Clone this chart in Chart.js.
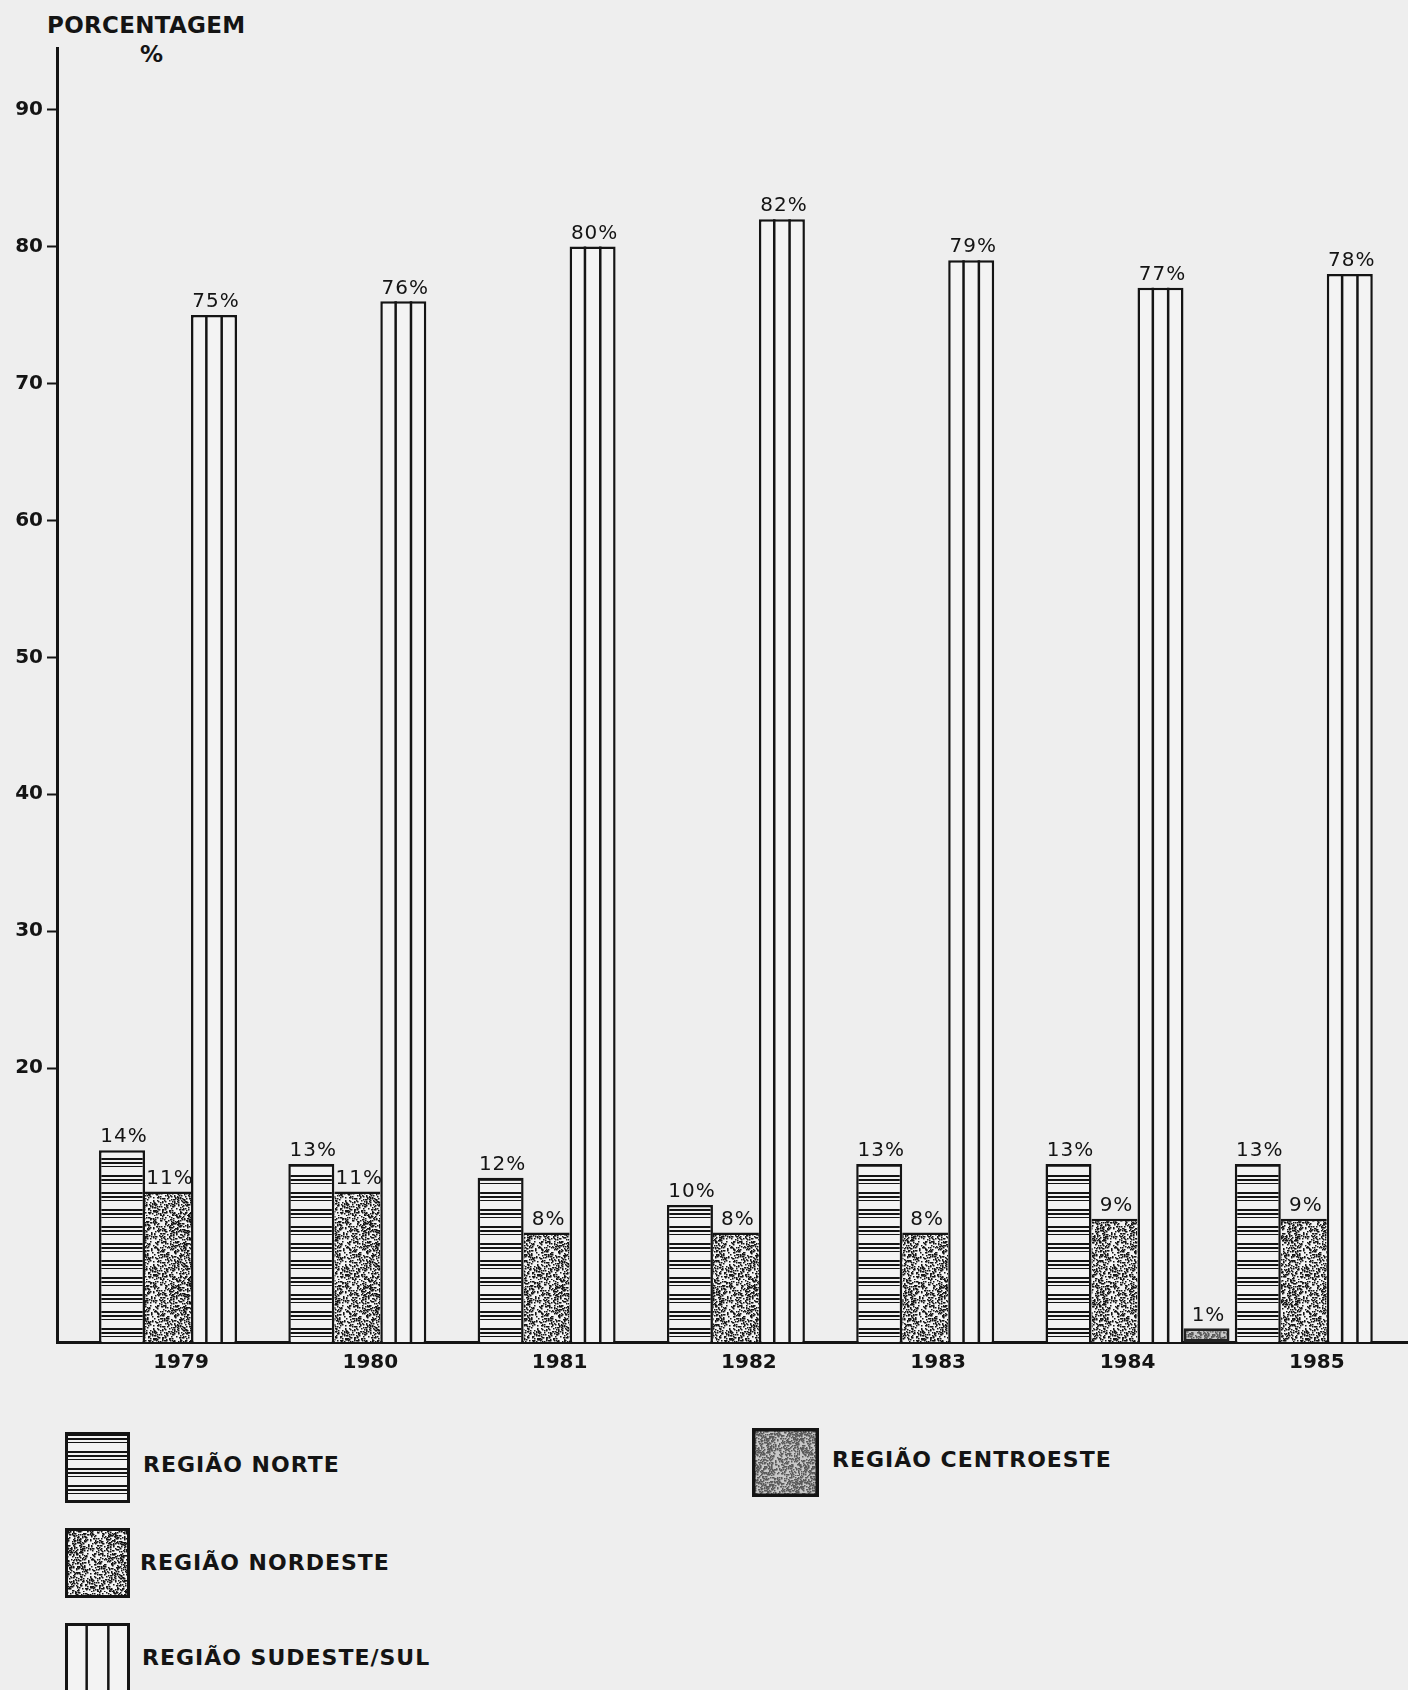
<!DOCTYPE html>
<html>
<head>
<meta charset="utf-8">
<script src="https://cdn.jsdelivr.net/npm/chart.js@4.4.1/dist/chart.umd.min.js"></script>
<style>
  html, body { margin: 0; padding: 0; background: #eeeeee; }
  #page { position: relative; width: 1408px; height: 1690px; overflow: hidden; font-family: "DejaVu Sans", sans-serif; color: #141414; }
  #chart { position: absolute; left: 0; top: 0; }
  .titulo { position: absolute; font-weight: bold; font-size: 23px; line-height: 22px; letter-spacing: 0.3px; }
  .caixa { position: absolute; }
  .rotulo { position: absolute; white-space: nowrap; font-weight: bold; font-size: 22px; line-height: 26px; letter-spacing: 1px; }
</style>
</head>
<body>
<div id="page">
  <div class="titulo" style="left:47px; top:14px;">PORCENTAGEM</div>
  <div class="titulo" style="left:140px; top:43px;">%</div>
  <canvas id="chart" width="1408" height="1420"></canvas>
  <div id="legenda"></div>
</div>
<script>
const anos = [1979, 1980, 1981, 1982, 1983, 1984, 1985];
const norte = [14, 13, 12, 10, 13, 13, 13];
const nordeste = [11, 11, 8, 8, 8, 9, 9];
const sudesteSul = [75, 76, 80, 82, 79, 77, 78];
const centroeste = [null, null, null, null, null, 1, null];
const marcasY = [20, 30, 40, 50, 60, 70, 80, 90];
const regioes = ['REGIÃO NORTE', 'REGIÃO NORDESTE', 'REGIÃO SUDESTE/SUL', 'REGIÃO CENTROESTE'];

const tinta = '#141414';
const papel = '#f3f3f3';

// texturas das barras (hachura horizontal, pontilhado, cinza)
function tileListras() {
    const c = document.createElement('canvas');
    c.width = 4; c.height = 17;
    const g = c.getContext('2d');
    g.fillStyle = papel; g.fillRect(0, 0, 4, 17);
    g.fillStyle = tinta;
    g.fillRect(0, 2, 4, 2);
    g.fillRect(0, 6, 4, 2);
    g.fillRect(0, 10, 4, 1);
    return c;
}

function tilePontilhado(tam, escuro, claro, dens) {
    const c = document.createElement('canvas');
    c.width = tam; c.height = tam;
    const g = c.getContext('2d');
    g.fillStyle = claro; g.fillRect(0, 0, tam, tam);
    g.fillStyle = escuro;
    for (let y = 0; y < tam; y++) {
        for (let x = 0; x < tam; x++) {
            const h = Math.abs(Math.sin(x * 12.9898 + y * 78.233) * 43758.5453) % 1;
            if (h < dens) g.fillRect(x, y, 1.5, 1.5);
        }
    }
    return c;
}

const ctx = document.getElementById('chart').getContext('2d');
const padroes = [
    ctx.createPattern(tileListras(), 'repeat'),
    ctx.createPattern(tilePontilhado(64, tinta, papel, 0.22), 'repeat'),
    papel,
    ctx.createPattern(tilePontilhado(48, '#5a5a5a', '#c8c8c8', 0.28), 'repeat')
];

const pontos = serie => serie.map((v, i) => ({ x: anos[i], y: v }));

const linhasSudeste = {
    id: 'linhasSudeste',
    afterDatasetsDraw(chart) {
        const c = chart.ctx;
        const meta = chart.getDatasetMeta(2);
        c.save();
        c.strokeStyle = tinta;
        c.lineWidth = 2.5;
        meta.data.forEach(bar => {
            const { x, y, base, width } = bar.getProps(['x', 'y', 'base', 'width'], true);
            if (isNaN(y)) return;
            const esq = x - width / 2;
            [1, 2].forEach(k => {
                c.beginPath();
                c.moveTo(esq + width * k / 3, y);
                c.lineTo(esq + width * k / 3, base);
                c.stroke();
            });
        });
        c.restore();
    }
};

const rotulos = {
    id: 'rotulos',
    afterDatasetsDraw(chart) {
        const c = chart.ctx;
        c.save();
        c.fillStyle = tinta;
        c.font = '20px "DejaVu Sans"';
        c.letterSpacing = '1px';
        c.textAlign = 'center';
        c.textBaseline = 'bottom';
        chart.data.datasets.forEach((ds, i) => {
            chart.getDatasetMeta(i).data.forEach((bar, j) => {
                const v = ds.data[j].y;
                if (v == null) return;
                c.fillText(v + '%', bar.x + 2, bar.y - 3);
            });
        });
        c.restore();
    }
};

const comum = { borderColor: tinta, borderSkipped: false, categoryPercentage: 0.972, barPercentage: 1 };

new Chart(ctx, {
    type: 'bar',
    data: {
        datasets: [
            { ...comum, label: regioes[0], data: pontos(norte), backgroundColor: padroes[0],
              borderWidth: { top: 2.5, left: 2.5, right: 2.5, bottom: 0 } },
            { ...comum, label: regioes[1], data: pontos(nordeste), backgroundColor: padroes[1],
              borderWidth: { top: 2.5, left: 0, right: 0, bottom: 0 } },
            { ...comum, label: regioes[2], data: pontos(sudesteSul), backgroundColor: padroes[2],
              borderWidth: { top: 2.5, left: 2.5, right: 2.5, bottom: 0 } },
            { ...comum, label: regioes[3], data: pontos(centroeste), backgroundColor: padroes[3],
              borderColor: '#222', borderWidth: 3 }
        ]
    },
    options: {
        responsive: false,
        animation: false,
        events: [],
        layout: { padding: { top: 48, left: 0, right: 0, bottom: 0 } },
        plugins: { legend: { display: false }, tooltip: { enabled: false } },
        scales: {
            x: {
                type: 'linear',
                offset: false,
                min: 1978.292,
                max: 1985.429,
                z: 1,
                afterBuildTicks: s => { s.ticks = anos.map(v => ({ value: v })); },
                afterFit: s => { s.height = 78; },
                grid: { display: false, drawTicks: false, offset: false },
                border: { color: tinta, width: 3 },
                ticks: {
                    callback: v => String(v),
                    autoSkip: false,
                    maxRotation: 0,
                    padding: 9,
                    labelOffset: -10,
                    color: tinta,
                    font: { family: 'DejaVu Sans', size: 20, weight: 'bold' }
                }
            },
            y: {
                min: 0,
                max: 94.5,
                afterBuildTicks: s => { s.ticks = marcasY.map(v => ({ value: v })); },
                afterFit: s => { s.width = 57; },
                grid: { drawOnChartArea: false, drawTicks: true, tickLength: 10, tickWidth: 2, tickColor: tinta },
                border: { color: tinta, width: 3 },
                ticks: {
                    padding: 4,
                    color: tinta,
                    font: { family: 'DejaVu Sans', size: 20, weight: 'bold' }
                }
            }
        }
    },
    plugins: [linhasSudeste, rotulos]
});

// legenda montada à mão, como no original
const legendaPos = [
    { box: [65, 1432, 65, 71], texto: [143, 1465] },
    { box: [65, 1528, 65, 70], texto: [140, 1563] },
    { box: [65, 1623, 65, 72], texto: [142, 1658] },
    { box: [752, 1428, 67, 69], texto: [832, 1460] }
];

const legenda = document.getElementById('legenda');
regioes.forEach((nome, i) => {
    const [bx, by, bw, bh] = legendaPos[i].box;
    const cv = document.createElement('canvas');
    cv.className = 'caixa';
    cv.width = bw; cv.height = bh;
    cv.style.left = bx + 'px'; cv.style.top = by + 'px';
    const g = cv.getContext('2d');
    g.fillStyle = padroes[i];
    g.fillRect(0, 0, bw, bh);
    g.strokeStyle = tinta;
    if (i === 2) {
        g.lineWidth = 2.5;
        [1, 2].forEach(k => {
            g.beginPath();
            g.moveTo(bw * k / 3, 0);
            g.lineTo(bw * k / 3, bh);
            g.stroke();
        });
    }
    g.lineWidth = i === 3 ? 4 : 3;
    g.strokeRect(1.5, 1.5, bw - 3, bh - 3);
    legenda.appendChild(cv);

    const t = document.createElement('div');
    t.className = 'rotulo';
    t.textContent = nome;
    t.style.left = legendaPos[i].texto[0] + 'px';
    t.style.top = (legendaPos[i].texto[1] - 13) + 'px';
    legenda.appendChild(t);
});
</script>
</body>
</html>
